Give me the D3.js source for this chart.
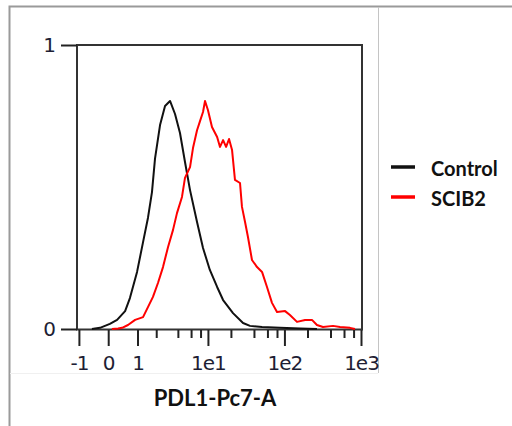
<!DOCTYPE html>
<html>
<head>
<meta charset="utf-8">
<script src="https://cdn.jsdelivr.net/npm/d3@7"></script>
<style>
  body { margin: 0; background: #fff; }
  .tick-label { font-family: "DejaVu Sans", Verdana, sans-serif; font-size: 20px; letter-spacing: -1px; fill: #1e1e34; }
  .bold-text { font-family: Lato, "Open Sans", sans-serif; font-weight: 700; fill: #111; }
</style>
</head>
<body>
<svg id="chart"></svg>
<script>
// histogram values (x = PDL1-Pc7-A intensity, y = normalized count)
const controlX = [-0.51, -0.25, 0.05, 0.27, 0.53, 0.70, 0.98, 1.25, 1.50, 1.73, 1.92, 2.27, 2.67, 3.13, 3.66,
    4.27, 4.98, 5.81, 7.19, 8.62, 10.6, 13.2, 15.8, 21.3, 28.8, 35.5, 51.0, 87.5, 160, 266];
const controlY = [0, 0.004, 0.018, 0.032, 0.063, 0.109, 0.201, 0.306, 0.391, 0.482, 0.60, 0.718, 0.785, 0.803, 0.757,
    0.690, 0.588, 0.489, 0.377, 0.285, 0.208, 0.148, 0.102, 0.056, 0.021, 0.011, 0.007, 0.004, 0.002, 0];

const scibX = [0.11, 0.30, 0.43, 0.63, 0.90, 1.25, 1.50, 1.79, 2.12, 2.50, 2.94, 3.44, 3.89, 4.54, 4.98, 5.81,
    6.36, 7.19, 7.87, 8.62, 9.16, 10.0, 11.3, 13.2, 14.4, 15.8, 17.3, 18.9, 20.7, 22.6, 26.3, 27.9, 30.6, 33.4,
    37.7, 43.9, 51.0, 59.2, 68.8, 80.0, 102, 118, 146, 186, 229, 266, 319, 431, 532, 718, 835];
const scibY = [0, 0.002, 0.004, 0.014, 0.032, 0.042, 0.077, 0.113, 0.162, 0.218, 0.289, 0.349, 0.408, 0.465, 0.532, 0.570,
    0.637, 0.70, 0.732, 0.764, 0.803, 0.771, 0.711, 0.676, 0.641, 0.665, 0.641, 0.669, 0.630, 0.525, 0.514, 0.430, 0.377, 0.324,
    0.243, 0.218, 0.201, 0.148, 0.092, 0.060, 0.063, 0.049, 0.025, 0.032, 0.032, 0.014, 0.007, 0.011, 0.007, 0.004, 0];

const majorTicks = [-1, 0, 1, 10, 100, 1000];
const majorLabels = ["-1", "0", "1", "1e1", "1e2", "1e3"];
const minorTicks = [2, 4, 6, 8, 20, 40, 60, 80, 200, 400, 600, 800];
const yTicks = [0, 1];
const seriesNames = ["Control", "SCIB2"];
const seriesColors = ["#111111", "#ff0000"];

const W = 512, H = 426;
const svg = d3.select("#chart").attr("width", W).attr("height", H);

// frame of the pasted figure
svg.append("path").attr("d", "M9.5,426 V6.5 H512").attr("fill", "none").attr("stroke", "#9a9a9a").attr("stroke-width", 2);
svg.append("line").attr("x1", 378.5).attr("x2", 378.5).attr("y1", 7).attr("y2", 373).attr("stroke", "#c4c4c4");
svg.append("line").attr("x1", 10).attr("x2", 378).attr("y1", 373.5).attr("y2", 373.5).attr("stroke", "#f0f0f0");

// biexponential-like axis: asinh transform + linear scale
const T = v => Math.asinh(v);
const xT = d3.scaleLinear().domain([T(-1), T(1000)]).range([78.9, 361]);
const x = v => xT(T(v));
const y = d3.scaleLinear().domain([0, 1]).range([329, 45]);

const g = svg.append("g");

// box
g.append("rect")
    .attr("x", 77).attr("y", 45)
    .attr("width", 285).attr("height", 284.5)
    .attr("fill", "none").attr("stroke", "#333").attr("stroke-width", 2);

// x axis, major ticks
const xAxis = g.append("g")
    .attr("transform", "translate(0,330)")
    .call(d3.axisBottom(xT)
        .tickValues(majorTicks.map(T))
        .tickFormat((d, i) => majorLabels[i])
        .tickSize(16).tickSizeOuter(0).tickPadding(10));
xAxis.select(".domain").remove();
xAxis.selectAll("line").attr("stroke", "#222").attr("stroke-width", 2);
xAxis.selectAll("text").attr("class", "tick-label").attr("font-family", null).attr("font-size", null).attr("fill", null);

// minor ticks
const xMinor = g.append("g")
    .attr("transform", "translate(0,330)")
    .call(d3.axisBottom(xT).tickValues(minorTicks.map(T)).tickFormat("").tickSize(8).tickSizeOuter(0));
xMinor.select(".domain").remove();
xMinor.selectAll("line").attr("stroke", "#222").attr("stroke-width", 2);

// y axis
const yAxis = g.append("g")
    .attr("transform", "translate(77,0)")
    .call(d3.axisLeft(y).tickValues(yTicks).tickFormat(d3.format("d")).tickSize(16).tickSizeOuter(0).tickPadding(6));
yAxis.select(".domain").remove();
yAxis.selectAll("line").attr("stroke", "#222").attr("stroke-width", 2);
yAxis.selectAll("text").attr("class", "tick-label").attr("font-family", null).attr("font-size", null).attr("fill", null);

// histograms
const line = d3.line().x(d => x(d[0])).y(d => y(d[1]));
const series = [d3.zip(controlX, controlY), d3.zip(scibX, scibY)];

g.selectAll(".hist")
    .data(series)
    .enter().append("path")
    .attr("class", "hist")
    .attr("d", line)
    .attr("fill", "none")
    .attr("stroke", (d, i) => seriesColors[i])
    .attr("stroke-width", 2)
    .attr("stroke-linejoin", "round");

// axis title
svg.append("text")
    .attr("class", "bold-text")
    .attr("x", 215).attr("y", 406)
    .attr("text-anchor", "middle")
    .attr("font-size", 22)
    .text("PDL1-Pc7-A");

// legend
const legend = svg.selectAll(".legend")
    .data(seriesNames)
    .enter().append("g")
    .attr("class", "legend")
    .attr("transform", (d, i) => `translate(391,${167 + i * 30})`);
legend.append("line")
    .attr("x1", 0).attr("x2", 24)
    .attr("stroke", (d, i) => seriesColors[i])
    .attr("stroke-width", 3.5);
legend.append("text")
    .attr("class", "bold-text")
    .attr("x", 40).attr("y", 9)
    .attr("font-size", 20)
    .text(d => d);
</script>
</body>
</html>
